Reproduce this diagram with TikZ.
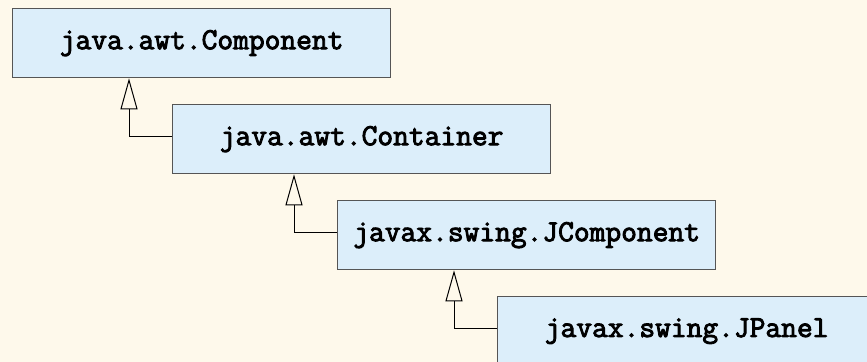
\documentclass[tikz,border=0pt]{standalone}
\usepackage{fontspec}
\newfontfamily\codefont{Latin Modern Mono}[FakeBold=3]
\usetikzlibrary{arrows.meta}
\definecolor{bgcream}{HTML}{FEF9EB}
\definecolor{boxfill}{HTML}{DCEEFA}
\definecolor{boxline}{HTML}{555555}
\newcommand{\classfont}{\fontsize{15.3}{18}\selectfont\codefont}
\begin{document}
\begin{tikzpicture}[
  x=0.5pt, y=-0.5pt,
  box/.style={draw=boxline, line width=0.65pt, fill=boxfill, anchor=north west, inner sep=0pt,
    minimum width=189pt, minimum height=34.5pt, font=\classfont},
  inherit/.style={-{Triangle[open, length=15.5pt, width=8.5pt]}, line width=0.5pt}
]
\useasboundingbox (0,0) rectangle (867,362);
\fill[bgcream] (0,0) rectangle (867,362);
\node[box] (component) at (12,8) {java.awt.Component};
\node[box] (container) at (172,104) {java.awt.Container};
\node[box] (jcomponent) at (337,200) {javax.swing.JComponent};
\node[box] (jpanel) at (497,296) {javax.swing.JPanel};
\draw[inherit] ([yshift=1.25pt]container.west) -| ([xshift=58.5pt]component.south west);
\draw[inherit] ([yshift=1.25pt]jcomponent.west) -| ([xshift=61pt]container.south west);
\draw[inherit] ([yshift=1.25pt]jpanel.west) -| ([xshift=58.5pt]jcomponent.south west);
\end{tikzpicture}
\end{document}
